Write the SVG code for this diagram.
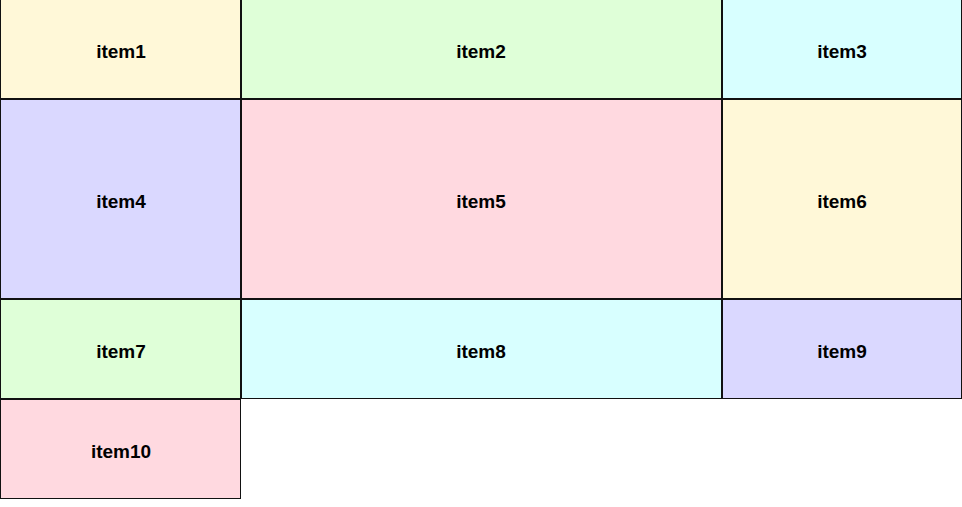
<svg xmlns="http://www.w3.org/2000/svg" width="962" height="507" viewBox="0 0 962 507">
<style>
.b rect{stroke:#111;stroke-width:1}
.b text{font-family:"Liberation Sans",Arial,sans-serif;font-weight:bold;font-size:19px;text-anchor:middle;dominant-baseline:central;fill:#000}
.y{fill:#fff8d8}.g{fill:#dfffd8}.c{fill:#d8ffff}.v{fill:#dad8ff}.p{fill:#ffd9e0}
</style>
<rect width="962" height="507" fill="#fff"/>
<g class="b">
<g id="item1"><rect class="y" x="0.5" y="-1.5" width="240" height="100"/><text x="121" y="51">item1</text></g>
<g id="item2"><rect class="g" x="241.5" y="-1.5" width="480" height="100"/><text x="481" y="51">item2</text></g>
<g id="item3"><rect class="c" x="722.5" y="-1.5" width="239" height="100"/><text x="842" y="51">item3</text></g>
<g id="item4"><rect class="v" x="0.5" y="99.5" width="240" height="199"/><text x="121" y="201">item4</text></g>
<g id="item5"><rect class="p" x="241.5" y="99.5" width="480" height="199"/><text x="481" y="201">item5</text></g>
<g id="item6"><rect class="y" x="722.5" y="99.5" width="239" height="199"/><text x="842" y="201">item6</text></g>
<g id="item7"><rect class="g" x="0.5" y="299.5" width="240" height="99"/><text x="121" y="351">item7</text></g>
<g id="item8"><rect class="c" x="241.5" y="299.5" width="480" height="99"/><text x="481" y="351">item8</text></g>
<g id="item9"><rect class="v" x="722.5" y="299.5" width="239" height="99"/><text x="842" y="351">item9</text></g>
<g id="item10"><rect class="p" x="0.5" y="399.5" width="240" height="99"/><text x="121" y="451">item10</text></g>
</g>
<g id="connectors"/>
</svg>
